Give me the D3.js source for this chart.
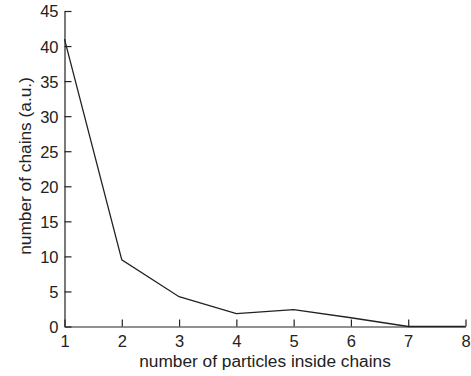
<!DOCTYPE html>
<html><head><meta charset="utf-8">
<script src="https://cdn.jsdelivr.net/npm/d3@7"></script>
<style>body{margin:0;background:#fff}svg{display:block}text{font-family:"Liberation Sans",Arial,sans-serif;fill:#222}</style>
</head><body>
<script>
const particles = [1,2,3,4,5,6,7,8];
const chains = [41,9.5,4.25,1.85,2.4,1.25,0,0];
const xTicks = [1,2,3,4,5,6,7,8];
const yTicks = [0,5,10,15,20,25,30,35,40,45];

const W=471,H=376;
const svg=d3.select("body").append("svg").attr("width",W).attr("height",H);
const x=d3.scaleLinear().domain([1,8]).range([64.5,465.5]);
const y=d3.scaleLinear().domain([0,45]).range([326.5,11]);

const xa=svg.append("g").attr("transform","translate(0,326.5)")
  .call(d3.axisBottom(x).tickValues(xTicks).tickFormat(d3.format("d")).tickSizeInner(-7).tickSizeOuter(0).tickPadding(6));
const ya=svg.append("g").attr("transform","translate(64.5,0)")
  .call(d3.axisLeft(y).tickValues(yTicks).tickFormat(d3.format("d")).tickSizeInner(-7).tickSizeOuter(0).tickPadding(6));
[xa,ya].forEach(g=>{
  g.selectAll("path,line").attr("stroke","#222").attr("stroke-width",1.2);
  g.selectAll("text").style("font-size","16.5px").attr("fill","#222");
});
xa.selectAll("text").attr("y",20.5).attr("dy","0");
ya.selectAll("text").attr("dy","0.36em");

svg.append("path").datum(particles.map((p,i)=>[p,chains[i]]))
  .attr("fill","none").attr("stroke","#222").attr("stroke-width",1.3)
  .attr("d",d3.line().x(d=>x(d[0])).y(d=>y(d[1])));

svg.append("text").attr("x",265).attr("y",367).attr("text-anchor","middle").style("font-size","17.3px").text("number of particles inside chains");
svg.append("text").attr("transform","translate(31,166) rotate(-90)").attr("text-anchor","middle").style("font-size","17.3px").text("number of chains (a.u.)");
</script>
</body></html>
